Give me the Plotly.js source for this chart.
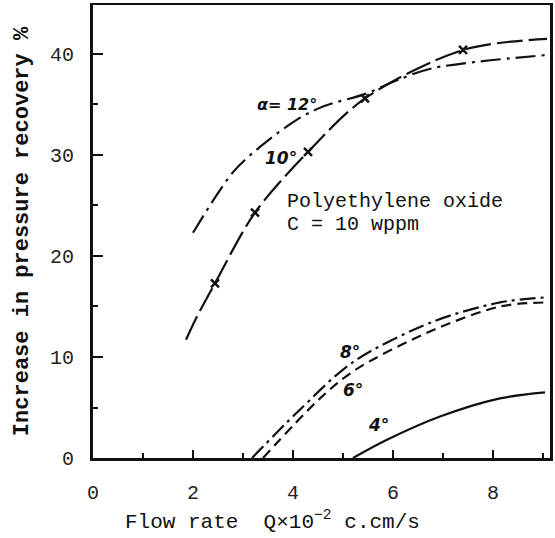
<!DOCTYPE html>
<html>
<head>
<meta charset="utf-8">
<script src="https://cdn.plot.ly/plotly-3.0.1.min.js"></script>
<style>html,body{margin:0;padding:0;background:#fff;}</style>
</head>
<body>
<div id="chart" style="width:555px;height:538px;"></div>
<script>
// Curve alpha = 12 deg (dash-dot)
const a12X = [2.0, 2.8, 3.34, 4.08, 4.6, 5.48, 6.08, 6.8, 9.08];
const a12Y = [22.3, 28.3, 30.8, 33.5, 34.8, 36.1, 37.4, 38.6, 39.9];
// Curve alpha = 10 deg (long dash) and its measured points
const a10X = [1.86, 2.08, 2.44, 3.24, 4.3, 5.44, 7.4, 9.08];
const a10Y = [11.7, 14.0, 17.3, 24.3, 30.3, 35.6, 40.4, 41.5];
const a10PtsX = [2.44, 3.24, 4.3, 5.44, 7.4];
const a10PtsY = [17.3, 24.3, 30.3, 35.6, 40.4];
// Curve alpha = 8 deg (dash-dot)
const a8X = [3.18, 4.08, 5.2, 6.8, 8.14, 9.04];
const a8Y = [0, 4.5, 9.5, 13.5, 15.4, 15.9];
// Curve alpha = 6 deg (dashed)
const a6X = [3.4, 4.54, 5.24, 6.68, 8.14, 9.04];
const a6Y = [0, 5.9, 8.7, 12.4, 15.0, 15.4];
// Curve alpha = 4 deg (solid)
const a4X = [5.2, 5.88, 6.94, 8.14, 9.04];
const a4Y = [0, 1.8, 4.1, 5.9, 6.5];

const xTickVals = [0, 2, 4, 6, 8];
const xTickText = ['0', '2', '4', '6', '8'];
const xMinorVals = [1, 3, 5, 7, 9];
const yTickVals = [0, 10, 20, 30, 40];
const yTickText = ['0', '10', '20', '30', '40'];
const yMinorVals = [5, 15, 25, 35];

const mono = 'Liberation Mono, Courier New, monospace';
const hand = 'DejaVu Sans, sans-serif';

function curve(x, y, dash, name) {
  return {x: x, y: y, type: 'scatter', mode: 'lines', name: name,
    line: {color: '#111', width: 2.2, dash: dash, shape: 'spline', smoothing: 0.9}};
}

const data = [
  curve(a12X, a12Y, '20px,6px,3px,6px', 'α=12°'),
  curve(a10X, a10Y, '26px,6px', 'α=10°'),
  {x: a10PtsX, y: a10PtsY, type: 'scatter', mode: 'markers', name: '10° data',
    marker: {symbol: 'x-thin', size: 8, line: {width: 2.5, color: '#111'}, color: '#111'}},
  curve(a8X, a8Y, '16px,5px,3px,5px', 'α=8°'),
  curve(a6X, a6Y, '10px,6px', 'α=6°'),
  curve(a4X, a4Y, 'solid', 'α=4°')
];

const layout = {
  width: 555, height: 538,
  margin: {l: 93, r: 5, t: 5, b: 80},
  paper_bgcolor: '#fff', plot_bgcolor: '#fff',
  showlegend: false,
  font: {family: mono, color: '#111', size: 20},
  xaxis: {
    range: [0, 9.14], showgrid: false, zeroline: false,
    showline: true, linecolor: '#111', linewidth: 2.5, mirror: true,
    ticks: 'inside', ticklen: 8, tickwidth: 2, tickcolor: '#111',
    tickmode: 'array', tickvals: xTickVals, ticktext: xTickText,
    ticklabelstandoff: 14,
    minor: {tickmode: 'array', tickvals: xMinorVals, ticks: 'inside', ticklen: 5, tickwidth: 2, tickcolor: '#111'},
    tickfont: {family: mono, size: 20, color: '#222'}
  },
  yaxis: {
    range: [0, 44.85], showgrid: false, zeroline: false,
    showline: true, linecolor: '#111', linewidth: 3, mirror: true,
    ticks: 'inside', ticklen: 10, tickwidth: 2, tickcolor: '#111',
    tickmode: 'array', tickvals: yTickVals, ticktext: yTickText,
    ticklabelstandoff: 12,
    minor: {tickmode: 'array', tickvals: yMinorVals, ticks: 'inside', ticklen: 5, tickwidth: 2, tickcolor: '#111'},
    tickfont: {family: mono, size: 20, color: '#222'},
    title: {text: 'Increase in pressure recovery %',
      font: {family: mono, size: 22, color: '#111', weight: 'bold'}, standoff: 16}
  },
  annotations: [
    {xref: 'paper', yref: 'paper', x: 0.392, y: -0.139, xanchor: 'center', yanchor: 'middle',
      text: 'Flow rate\u00a0\u00a0Q×10<sup>−2</sup>\u00a0c.cm/s', showarrow: false,
      font: {family: mono, size: 21, color: '#111'}},
    {x: 3.88, y: 35.0, text: '<b><i>α= 12°</i></b>', showarrow: false, font: {family: hand, size: 16, color: '#111'}},
    {x: 3.76, y: 29.7, text: '<b><i>10°</i></b>', showarrow: false, font: {family: hand, size: 17, color: '#111'}},
    {x: 5.14, y: 10.5, text: '<b><i>8°</i></b>', showarrow: false, font: {family: hand, size: 17, color: '#111'}},
    {x: 5.2, y: 6.7, text: '<b><i>6°</i></b>', showarrow: false, font: {family: hand, size: 17, color: '#111'}},
    {x: 5.7, y: 3.3, text: '<b><i>4°</i></b>', showarrow: false, font: {family: hand, size: 17, color: '#111'}},
    {x: 3.84, y: 25.4, xanchor: 'left', text: 'Polyethylene oxide', showarrow: false, font: {family: mono, size: 20, color: '#111'}},
    {x: 3.84, y: 23.1, xanchor: 'left', text: 'C = 10 wppm', showarrow: false, font: {family: mono, size: 20, color: '#111'}}
  ]
};

Plotly.newPlot('chart', data, layout, {staticPlot: true, displayModeBar: false});
</script>
</body>
</html>
